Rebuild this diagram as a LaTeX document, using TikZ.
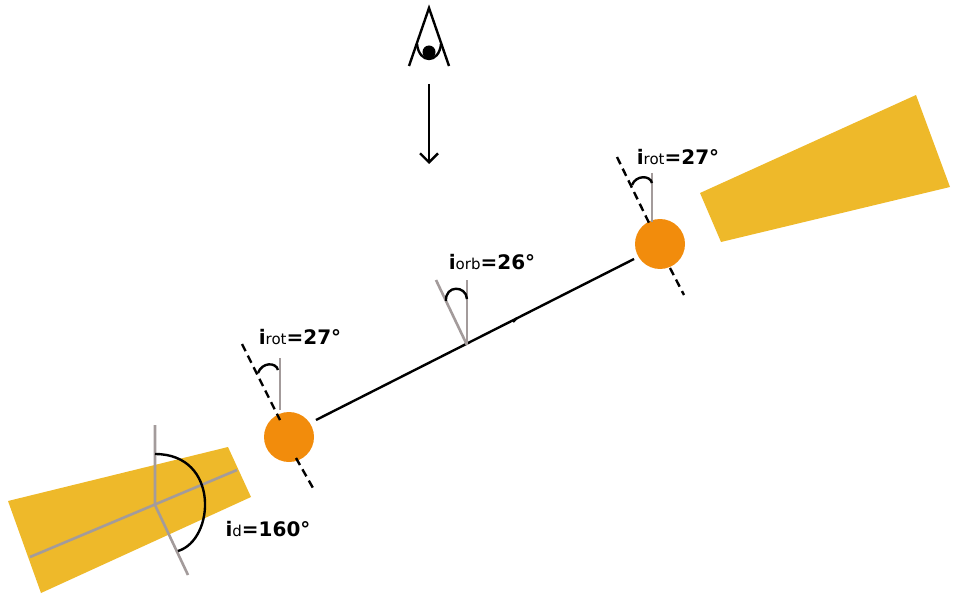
\documentclass[tikz,border=0pt]{standalone}
\usepackage{fontspec}
\setmainfont{DejaVu Sans}
\usetikzlibrary{arrows.meta}
\begin{document}
\begin{tikzpicture}[x=1pt,y=-1pt,
  gry/.style={draw=grayc, line width=2.6pt},
  blk/.style={draw=black, line width=2.4pt},
  dsh/.style={draw=black, line width=2.4pt, dash pattern=on 8pt off 5pt},
  starc/.style={circle, minimum size=50pt, inner sep=0},
  lab/.style={font=\bfseries\fontsize{20}{20}\selectfont, inner sep=0}]
\definecolor{cone}{HTML}{EEB92A}
\definecolor{starcol}{HTML}{F28C0C}
\definecolor{grayc}{HTML}{A39B9B}
\useasboundingbox (0,0) rectangle (958,604);
% cones
\fill[cone] (8,501) -- (228,447) -- (251,497) -- (41,593) -- cycle;
\fill[cone] (700,193) -- (916,95) -- (950,187) -- (721,242) -- cycle;
% left cone axes
\coordinate (c0) at (155,505);
\draw[gry] (30,557) -- (237,470);
\draw[gry] (155,425) -- (c0) -- (188,575);
\draw[blk] (155,454) .. controls (220,454) and (215,540) .. (178,551);
\node[lab] (ld) at (268,529) {i\textmd{\fontsize{15}{15}\selectfont d}=160°};
% eye
\coordinate (eA) at (429,8);
\draw[blk] (409,66) -- (eA) -- (449,66);
\draw[blk] (417,44) .. controls (419,64) and (439,64) .. (441,44);
\fill (429,52) circle (6.5);
\coordinate (a1) at (429,84);
\coordinate (a2) at (429,164);
\draw[blk,-{Straight Barb[length=9pt,width=18pt]}] (a1) -- (a2);
% stars
\node[starc, fill=starcol] (s1) at (289,437) {};
\node[starc, fill=starcol] (s2) at (660,244) {};
\coordinate (o1) at (316,420);
\coordinate (o2) at (634,259);
\draw[blk] (o1) -- (o2);
\draw[blk] (513,322) -- (517,318);
% orbit inclination
\coordinate (om) at (467,345);
\draw[gry] (om) -- (467,280);
\draw[gry] (om) -- (436,280);
\draw[blk] (446,301) .. controls (445,285) and (466,285) .. (467,299);
\node[lab] (lorb) at (492,262) {i\textmd{\fontsize{15}{15}\selectfont orb}=26°};
% left star rotation
\draw[dsh] (242,344) -- (280,420);
\draw[dsh] (296,458) -- (313,488);
\draw[gry] (280,358) -- (280,410);
\draw[blk] (258,373) .. controls (262,362) and (276,362) .. (278,370);
\node[lab] (lr1) at (300,337) {i\textmd{\fontsize{15}{15}\selectfont rot}=27°};
% right star rotation
\draw[dsh] (617,157) -- (651,227);
\draw[dsh] (670,268) -- (684,295);
\draw[gry] (652,173) -- (652,222);
\draw[blk] (632,185) .. controls (636,175) and (650,175) .. (652,183);
\node[lab] (lr2) at (678,157) {i\textmd{\fontsize{15}{15}\selectfont rot}=27°};
\end{tikzpicture}
\end{document}
